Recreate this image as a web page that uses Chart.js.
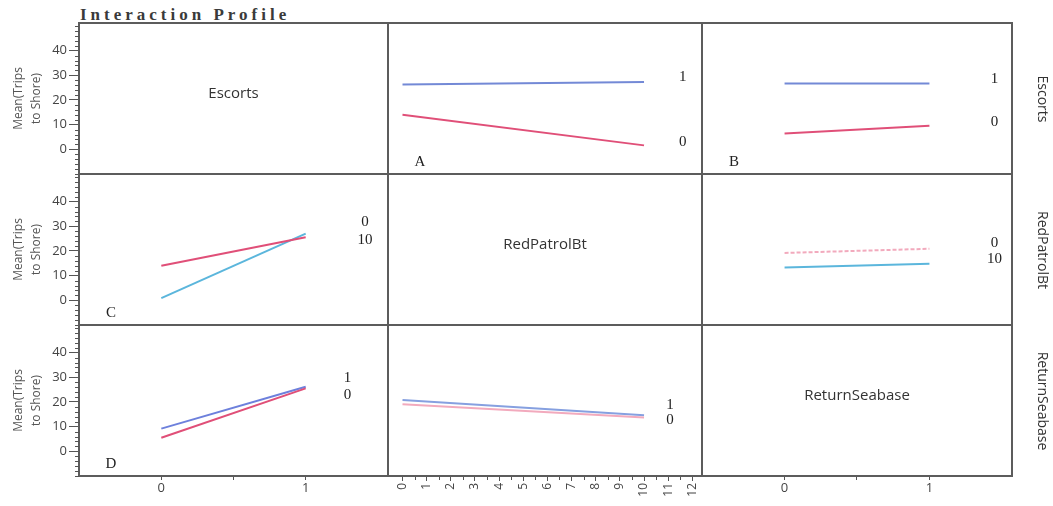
<!DOCTYPE html>
<html>
<head>
<meta charset="utf-8">
<script src="https://cdn.jsdelivr.net/npm/chart.js@4.4.0/dist/chart.umd.min.js"></script>
<style>
  body { margin: 0; background: #fff; }
  #wrap { position: relative; width: 1053px; height: 506px; overflow: hidden; font-family: "Open Sans", sans-serif; }
  #wrap canvas { position: absolute; }
  .title { position: absolute; left: 80px; top: 5px; font: bold 17px "Liberation Serif", serif; letter-spacing: 4px; color: #3a3a3a; line-height: 20px; }
  .side { position: absolute; left: 1043px; transform: translate(-50%, -50%) rotate(90deg); font-size: 14px; color: #333; white-space: nowrap; }
</style>
</head>
<body>
<div id="wrap">
  <div class="title">Interaction Profile</div>
</div>
<script>
// factor names (rows = trace factor, columns = x factor)
const factors = ["Escorts", "RedPatrolBt", "ReturnSeabase"];

// x levels of each factor
const escortLevels = [0, 1];
const patrolLevels = [0, 10];
const seabaseLevels = [0, 1];

// tick labels
const yTicks = [0, 10, 20, 30, 40];
const binaryTicks = [0, 0.5, 1];
const patrolTicks = [0, 1, 2, 3, 4, 5, 6, 7, 8, 9, 10, 11, 12];

// mean trips to shore
const escorts1ByPatrol = [26.3, 27.3];
const escorts0ByPatrol = [14.0, 1.6];
const escorts1BySeabase = [26.7, 26.7];
const escorts0BySeabase = [6.4, 9.6];
const patrol0ByEscorts = [14.0, 25.6];
const patrol10ByEscorts = [0.9, 27.0];
const patrol0BySeabase = [19.2, 20.9];
const patrol10BySeabase = [13.3, 14.8];
const seabase1ByEscorts = [9.2, 26.2];
const seabase0ByEscorts = [5.5, 25.5];
const seabase1ByPatrol = [20.8, 14.6];
const seabase0ByPatrol = [19.1, 13.7];

// grid edges in px
const colEdges = [79, 388, 702, 1012];
const rowEdges = [23, 174, 325, 476];

const BLUE = "#7389d6";
const RED = "#e04f78";
const CYAN = "#5bb6dc";
const PINK = "#f2aabd";

const xCfg = [
  { levels: escortLevels, ticks: binaryTicks, min: -0.57, max: 1.57, tagX: 1.41 },
  { levels: patrolLevels, ticks: patrolTicks, min: -0.6, max: 12.4, tagX: 11.6 },
  { levels: seabaseLevels, ticks: binaryTicks, min: -0.57, max: 1.57, tagX: 1.45 }
];

// off-diagonal cells
const cells = {
  "0,1": { letter: "A", series: [
    { values: escorts1ByPatrol, color: BLUE, tag: "1", tagY: 29.3 },
    { values: escorts0ByPatrol, color: RED, tag: "0", tagY: 3.0 }] },
  "0,2": { letter: "B", series: [
    { values: escorts1BySeabase, color: BLUE, tag: "1", tagY: 28.5 },
    { values: escorts0BySeabase, color: RED, tag: "0", tagY: 11.1 }] },
  "1,0": { letter: "C", tagX: 1.41, series: [
    { values: patrol0ByEscorts, color: RED, tag: "0", tagY: 31.9 },
    { values: patrol10ByEscorts, color: CYAN, tag: "10", tagY: 24.4 }] },
  "1,2": { letter: "", series: [
    { values: patrol0BySeabase, color: PINK, dash: [4, 2], tag: "0", tagY: 23.2 },
    { values: patrol10BySeabase, color: CYAN, tag: "10", tagY: 16.7 }] },
  "2,0": { letter: "D", tagX: 1.29, series: [
    { values: seabase0ByEscorts, color: RED, tag: "0", tagY: 22.8 },
    { values: seabase1ByEscorts, color: "#6d80dc", tag: "1", tagY: 29.7 }] },
  "2,1": { letter: "", tagX: 11.07, series: [
    { values: seabase0ByPatrol, color: PINK, tag: "0", tagY: 12.7 },
    { values: seabase1ByPatrol, color: "#86a0e0", tag: "1", tagY: 18.8 }] }
};

const cellPlugin = {
  id: "cell",
  afterDatasetsDraw(chart, args, opts) {
    const { ctx, chartArea: a, scales } = chart;
    const xs = scales.x, ys = scales.y;
    ctx.save();
    // frame
    ctx.strokeStyle = "#5c5c5c";
    ctx.lineWidth = 2;
    ctx.strokeRect(a.left, a.top, a.right - a.left, a.bottom - a.top);

    // minor ticks on the shown axes
    ctx.strokeStyle = "#555";
    ctx.lineWidth = 1;
    if (opts.leftAxis) {
      for (let v = -10; v <= 50; v += 2) {
        if (yTicks.includes(v)) continue;
        const py = Math.round(ys.getPixelForValue(v)) + 0.5;
        ctx.beginPath(); ctx.moveTo(a.left - 4, py); ctx.lineTo(a.left, py); ctx.stroke();
      }
    }
    if (opts.bottomAxis && opts.col === 1) {
      for (let v = 0.5; v < 12; v += 1) {
        const px = Math.round(xs.getPixelForValue(v)) + 0.5;
        ctx.beginPath(); ctx.moveTo(px, a.bottom + 1); ctx.lineTo(px, a.bottom + 4); ctx.stroke();
      }
    }

    ctx.textAlign = "center";
    ctx.textBaseline = "middle";
    if (opts.name) {
      ctx.fillStyle = "#333";
      ctx.font = "15px 'Open Sans'";
      ctx.fillText(opts.name, (a.left + a.right) / 2, (a.top + a.bottom) / 2 - 5);
    }
    if (opts.letter) {
      ctx.fillStyle = "#222";
      ctx.font = "15px 'Liberation Serif'";
      ctx.fillText(opts.letter, a.left + 32, a.bottom - 12);
    }
    ctx.font = "15px 'Liberation Serif'";
    ctx.fillStyle = "#222";
    (opts.tags || []).forEach(t => {
      ctx.fillText(t.text, xs.getPixelForValue(t.x), ys.getPixelForValue(t.y));
    });
    ctx.restore();
  }
};

// keep the plot frame fixed: no room kept for labels hanging past the ends
function noOverhang(s) {
  s.paddingTop = 0;
  s.paddingBottom = 0;
  s.paddingLeft = 0;
  s.paddingRight = 0;
}

const wrap = document.getElementById("wrap");

for (let r = 0; r < 3; r++) {
  for (let c = 0; c < 3; c++) {
    const left = c === 0 ? 0 : colEdges[c] - 2;
    const right = colEdges[c + 1] + 2;
    const top = rowEdges[r] - 2;
    const bottom = r === 2 ? 506 : rowEdges[r + 1] + 2;

    const canvas = document.createElement("canvas");
    canvas.width = right - left;
    canvas.height = bottom - top;
    canvas.style.left = left + "px";
    canvas.style.top = top + "px";
    wrap.appendChild(canvas);

    const xc = xCfg[c];
    const cell = cells[r + "," + c];
    const tagX = cell && cell.tagX !== undefined ? cell.tagX : xc.tagX;
    const datasets = cell ? cell.series.map(s => ({
      data: xc.levels.map((x, i) => ({ x: x, y: s.values[i] })),
      borderColor: s.color,
      borderWidth: 2,
      borderDash: s.dash || [],
      pointRadius: 0,
      tension: 0,
      fill: false
    })) : [];

    const showX = r === 2;
    const showY = c === 0;
    const rotated = c === 1;

    new Chart(canvas, {
      type: "line",
      data: { datasets: datasets },
      plugins: [cellPlugin],
      options: {
        responsive: false,
        animation: false,
        layout: { padding: { left: showY ? 0 : 2, right: 2, top: 2, bottom: showX ? 0 : 2 } },
        plugins: {
          legend: { display: false },
          tooltip: { enabled: false },
          cell: {
            col: c,
            leftAxis: showY,
            bottomAxis: showX,
            name: r === c ? factors[r] : "",
            letter: cell ? cell.letter : "",
            tags: cell ? cell.series.map(s => ({ text: s.tag, x: tagX, y: s.tagY })) : []
          }
        },
        scales: {
          x: {
            type: "linear",
            min: xc.min,
            max: xc.max,
            display: showX,
            afterBuildTicks: s => { s.ticks = xc.ticks.map(v => ({ value: v })); },
            afterFit: s => { noOverhang(s); if (showX) s.height = 30; },
            grid: { drawOnChartArea: false, tickLength: rotated ? 5 : 4, color: "#555" },
            border: { display: false },
            ticks: {
              autoSkip: false,
              minRotation: rotated ? 90 : 0,
              maxRotation: rotated ? 90 : 0,
              padding: rotated ? 2 : 0,
              color: "#444",
              font: { family: "Open Sans", size: rotated ? 12 : 13 },
              callback: v => (v === 0.5 ? "" : String(v))
            }
          },
          y: {
            type: "linear",
            min: -10,
            max: 51.2,
            display: showY,
            afterBuildTicks: s => { s.ticks = yTicks.map(v => ({ value: v })); },
            afterFit: s => { noOverhang(s); if (showY) s.width = 79; },
            grid: { drawOnChartArea: false, tickLength: 10, color: "#555" },
            border: { display: false },
            ticks: { padding: 2, color: "#444", font: { family: "Open Sans", size: 13 } },
            title: {
              display: true,
              text: ["Mean(Trips", "to Shore)"],
              color: "#555",
              font: { family: "Open Sans", size: 12, lineHeight: 1.5 },
              padding: { top: 10, bottom: 0 }
            }
          }
        }
      }
    });
  }
}

// row factor names down the right side
factors.forEach((f, r) => {
  const d = document.createElement("div");
  d.className = "side";
  d.style.top = ((rowEdges[r] + rowEdges[r + 1]) / 2) + "px";
  d.textContent = f;
  wrap.appendChild(d);
});
</script>
</body>
</html>
